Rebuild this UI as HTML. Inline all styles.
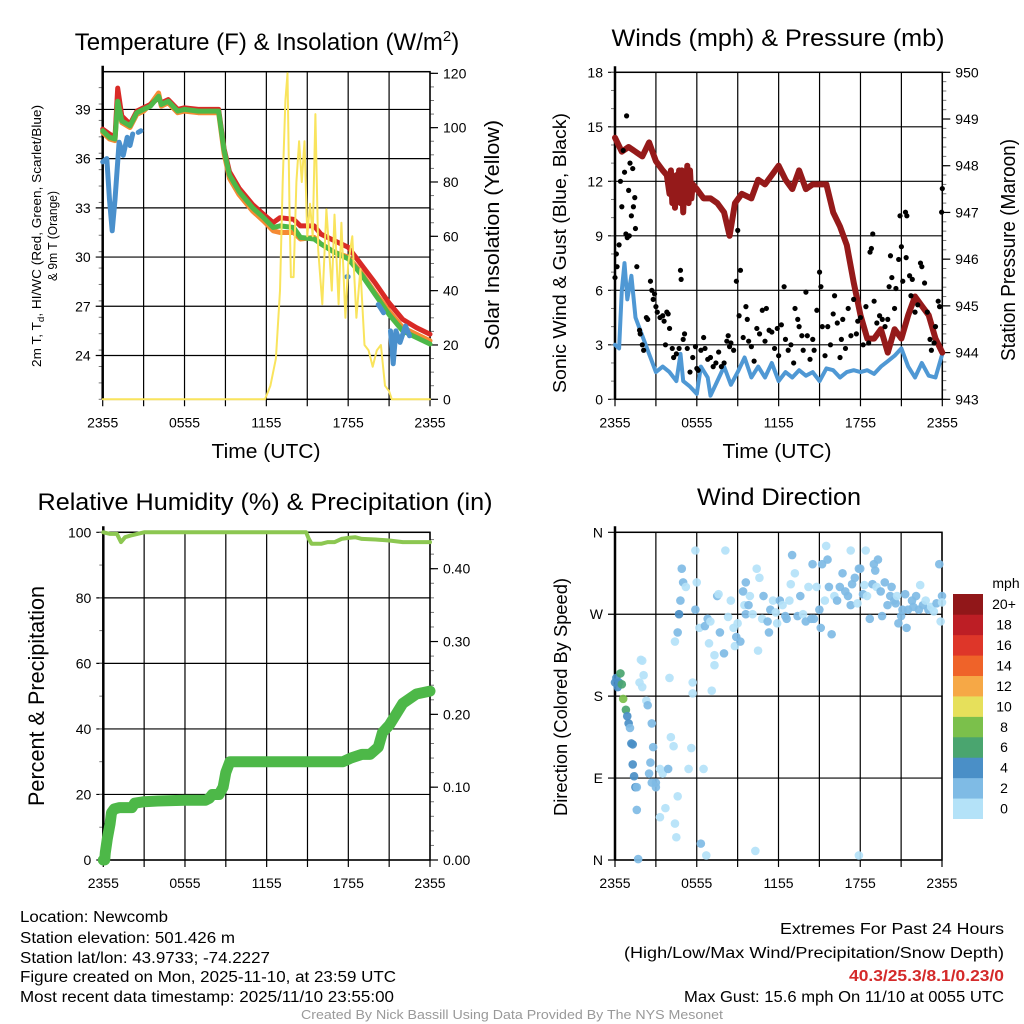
<!DOCTYPE html>
<html><head><meta charset="utf-8"><style>
html,body{margin:0;padding:0;background:#fff;}
svg{display:block;font-family:"Liberation Sans",Arial,sans-serif;}
</style></head><body>
<svg id="c" width="1024" height="1024" viewBox="0 0 1024 1024" xmlns="http://www.w3.org/2000/svg"></svg>
<script>
// ---- Panel 1 data ----
const tempT   = [0,0.5,0.9,1.1,1.4,2.0,2.5,3.0,3.5,4.1,4.3,4.8,5.5,6.0,7.0,8.0,8.5,8.9,9.3,10,11,11.8,12.5,13,14,14.5,15.5,16,17,18,19,20,21,22,23,24];
const tempGreen=[37.7,37.3,37.2,39.5,38.3,38.0,38.8,39.0,39.2,39.8,39.3,39.5,38.9,39.0,38.9,38.9,38.9,36.5,35.0,34.0,33.0,32.4,31.8,31.9,31.8,31.2,31.1,30.8,30.3,29.9,28.9,27.7,26.5,25.5,25.1,24.7];
const tempRed  =[37.8,37.5,37.3,40.3,38.6,38.1,38.9,39.1,39.3,39.7,39.4,39.6,39.0,39.1,39.0,39.0,39.0,36.6,35.2,34.2,33.2,32.6,32.1,32.4,32.3,31.9,31.9,31.4,31.0,30.6,29.5,28.4,27.2,26.2,25.7,25.3];
const tempOrange=[37.6,37.2,37.1,39.7,38.2,37.9,38.7,38.9,39.3,40.0,39.2,39.4,38.8,38.9,38.8,38.8,38.8,36.3,34.8,33.8,32.8,32.2,31.6,31.5,31.5,31.1,31.2,30.8,30.3,30.0,29.0,27.8,26.7,25.7,25.3,24.9];
const dewT = [0,0.3,0.5,0.7,0.9,1.2,1.5,1.8,2.0,2.2,2.3,2.6,2.8,2.9,17.9,18.0,18.1,20.2,20.3,20.6,20.8,21.1,21.3,21.5,21.8,22.2,22.5];
const dewV = [35.8,36.0,33.5,31.6,33.5,37.0,36.2,37.3,36.8,37.5,null,37.6,37.7,null,28.8,28.8,null,27.1,27.0,26.6,null,25.5,23.5,25.5,24.8,25.8,25.2];
const solT = [0,11.9,12.3,12.7,13.0,13.2,13.4,13.55,13.7,13.8,14.0,14.2,14.4,14.6,14.8,15.0,15.2,15.4,15.6,15.8,16.1,16.4,16.8,17.0,17.3,17.5,17.8,18.0,18.3,18.6,18.9,19.2,19.5,19.8,20.1,20.4,20.7,21.0,21.2,24];
const solV = [0,0,5,15,40,80,110,120,70,45,45,80,95,80,95,60,72,60,105,55,35,70,40,68,35,65,30,50,60,30,48,20,18,12,18,20,5,3,0,0];
const p1yTicks=[24,27,30,33,36,39];
const p1rTicks=[0,20,40,60,80,100,120];
const timeLabels=["2355","0555","1155","1755","2355"];
// ---- Panel 2 data ----
const presT=[0,0.5,1,1.5,2,2.5,3,3.5,3.8,4.0,4.1,4.2,4.3,4.4,4.5,4.6,4.7,4.8,4.9,5.0,5.1,5.2,5.3,5.4,5.5,5.6,5.7,6,6.5,7,7.5,8,8.4,8.8,9.3,10,10.5,11,11.5,12,12.5,13,13.5,14,14.5,15.5,16,16.5,17,17.5,18,18.5,19,19.5,20,20.5,21,21.5,22,22.5,23,23.5,24];
const presV=[948.6,948.3,948.4,948.3,948.2,948.5,948.1,947.9,947.8,947.4,947.9,947.2,947.7,947.1,947.8,947.3,947.9,947.2,947.9,947.0,947.8,947.4,948.0,947.2,947.9,947.3,947.6,947.5,947.3,947.3,947.2,947.0,946.5,947.2,947.4,947.3,947.7,947.6,947.8,948.0,947.7,947.5,947.9,947.5,947.6,947.6,947.0,946.7,946.3,945.5,944.8,944.3,944.3,944.5,944.0,944.5,944.3,944.8,945.2,945.0,944.8,944.3,944.0];
const windT=[0,0.3,0.5,0.7,0.9,1.2,1.5,2,2.5,3,3.5,4,4.5,4.8,5,5.5,6,6.3,6.8,7,7.5,8,8.5,9,9.5,10,10.5,11,11.5,12,12.5,13,13.5,14,14.5,15,15.5,16,16.5,17,17.5,18,18.5,19,19.5,20,20.5,21,21.5,22,22.5,23,23.5,24];
const windV=[3,2.8,6,7.5,5.5,6.8,4.5,3.5,2.5,1.5,1.8,1.5,1.0,2.5,1.0,0.7,0.3,1.8,1.2,0.2,1.0,1.8,0.8,1.5,2.3,1.2,1.8,1.2,2.0,1.0,1.5,1.2,1.6,1.3,1.5,1.0,1.7,1.6,1.2,1.5,1.6,1.5,1.6,1.4,1.8,2.1,2.4,2.8,1.8,1.2,2.0,1.3,1.2,2.5];
const gustT=[0,0.1,0.15,0.3,0.4,0.5,0.6,0.7,0.8,0.85,0.9,1.0,1.05,1.1,1.2,1.3,1.35,1.45,1.5,1.6,1.8,1.85,2.0,2.1,2.3,2.4,2.6,2.7,2.8,2.9,3.0,3.1,3.3,3.5,3.6,3.7,3.8,3.9,4.0,4.2,4.3,4.5,4.7,4.8,4.85,5.0,5.1,5.3,5.5,5.7,5.9,6.0,6.1,6.3,6.5,6.6,6.8,7.0,7.2,7.4,7.6,7.8,8.0,8.2,8.3,8.4,8.5,8.7,8.9,9.0,9.2,9.1,9.4,9.6,9.7,9.8,10.0,10.2,10.4,10.6,10.8,11.0,11.1,11.3,11.5,11.7,11.9,12.0,12.2,12.4,12.5,12.7,12.9,13.1,13.2,13.4,13.5,13.7,13.8,14.0,14.1,14.3,14.5,14.6,14.8,15.0,15.1,15.2,15.4,15.6,15.8,16.0,16.1,16.3,16.5,16.6,16.7,16.9,17.1,17.3,17.5,17.7,17.8,18.0,18.2,18.4,18.6,18.7,18.8,18.9,19.0,19.2,19.4,19.6,19.8,20.0,20.1,20.2,20.3,20.5,20.6,20.8,20.9,21.0,21.1,21.3,21.4,21.35,21.6,21.8,21.7,22.0,22.2,22.4,22.5,22.7,22.9,23.1,23.2,23.4,23.5,23.7,23.8,24.0,23.95];
const gustV=[6.7,8,7.3,8.5,12,10.6,13.7,12.5,9.1,15.6,8.9,11.5,9,13,10.1,12.7,10.6,11.1,9.4,7.3,3.8,3.6,3.0,2.7,4.5,4.4,6.5,6.0,5.5,5.8,5.1,4.8,4.5,4.6,4.3,3.0,4.8,4.7,3.9,2.8,2.3,2.5,2.8,7.1,6.6,3.3,3.6,2.8,1.5,2.3,2.9,1.7,1.6,2.7,3.4,2.8,2.2,2.3,1.8,2.0,2.6,1.8,2.0,3.2,3.5,2.9,3.1,2.7,6.5,9.3,7.1,4.6,3.4,5.1,4.4,3.2,2.9,2.1,3.9,3.6,4.9,3.2,5.0,3.8,3.7,2.8,3.9,2.4,4.1,6.2,3.3,2.7,3.0,2.0,5.0,4.4,4.0,3.5,2.7,5.9,3.5,2.2,3.3,2.7,4.9,7.0,6.2,4.0,2.4,4.0,3.0,4.7,5.7,4.2,2.3,3.3,4.4,2.8,5.0,3.5,5.5,3.6,4.3,4.5,3.0,5.1,3.1,8.1,8.3,9.1,5.4,4.2,4.6,4.4,4.0,4.4,6.2,7.9,6.7,5.0,6.1,7.7,10.1,8.4,6.5,10.3,10.1,7.8,6.8,6.6,5.7,4.8,5.2,7.5,7.3,6.4,4.8,3.3,2.7,3.1,4.0,5.4,5.1,11.6,10.3];
const p2yTicks=[0,3,6,9,12,15,18];
const p2rTicks=[943,944,945,946,947,948,949,950];
// ---- Panel 3 data ----
const rhT=[0,0.5,1.0,1.3,1.6,2,3,14.9,15.1,15.3,16,16.5,17,17.5,18,18.5,19,20,21,22,23,24];
const rhV=[100,99.5,99.5,97,98.5,99,100,100,98,96.5,96.5,97,97,98,98.3,98.5,98,97.8,97.5,97,97,97];
const prT=[0,0.1,0.15,0.3,0.5,0.6,0.8,1.2,2.1,2.3,3.0,4,6,7.5,7.8,8.0,8.5,8.8,9.0,9.3,11,17.6,18.2,19.0,19.6,20.2,20.5,21.0,21.5,22.0,23.0,24.0];
const prV=[0,0,0.01,0.03,0.05,0.065,0.07,0.072,0.072,0.078,0.08,0.081,0.082,0.082,0.085,0.09,0.09,0.10,0.12,0.135,0.135,0.135,0.14,0.145,0.145,0.155,0.175,0.185,0.2,0.215,0.228,0.232];
const p3yTicks=[0,20,40,60,80,100];
const p3rTicks=[0,0.1,0.2,0.3,0.4];
// ---- Panel 4 data ----
const dirT=[0,0.1,0.2,0.3,0.4,0.5,0.6,0.8,0.9,1.0,1.1,1.2,1.3,1.3,1.4,1.5,1.6,1.6,1.7,1.8,1.9,2.0,2.1,2.0,2.3,2.4,2.7,2.8,2.6,2.5,2.7,3.0,3.0,3.3,3.5,3.3,3.7,3.9,4.1,4.3,4.6,4.4,4.5,4.0,4.4,4.6,4.7,4.8,4.9,5.0,5.2,5.4,5.6,5.7,5.7,5.9,5.9,6.0,6.2,6.3,6.5,6.7,6.6,6.8,7.0,6.9,7.1,7.3,7.3,7.5,7.6,7.7,8.1,8.0,8.3,8.5,8.7,8.9,8.8,9.0,9.2,9.4,9.5,9.6,9.6,9.8,9.9,10.1,10.3,10.4,10.6,10.5,10.8,10.9,11.2,11.3,11.4,11.6,11.8,11.9,12.1,12.3,12.5,12.6,12.8,12.9,13.0,13.2,13.4,13.6,13.8,14.0,14.2,14.4,14.5,14.6,14.8,15.0,15.1,15.2,15.4,15.5,15.6,15.7,15.9,16.1,16.3,16.5,16.7,16.9,17.1,17.3,17.3,17.4,17.6,17.8,17.9,18.0,18.2,18.3,17.9,18.4,18.5,18.7,18.9,19.0,19.1,19.2,19.3,19.5,19.6,19.8,20.0,20.2,20.3,20.5,20.6,20.7,20.8,21.0,21.1,21.3,21.4,21.5,21.8,21.9,22.1,22.3,22.4,22.6,22.8,23.0,23.2,23.4,23.6,23.8,23.9,24.0,24.0];
const dirV=[195,200,190,195,205,193,177,165,158,150,145,128,127,105,92,80,80,55,1,195,220,219,203,190,175,170,150,124,107,95,85,85,80,100,95,47,57,100,135,125,70,40,25,200,240,250,270,285,320,305,300,100,123,195,183,275,340,305,255,18,100,5,257,265,262,238,186,214,225,290,292,250,340,227,267,285,255,245,235,260,240,295,280,270,305,280,290,270,10,320,310,230,265,290,262,250,275,285,272,260,285,280,268,265,285,303,335,315,268,290,270,262,300,265,325,265,300,275,255,325,285,345,330,300,248,290,285,300,315,295,290,280,340,303,310,282,320,320,292,302,5,340,290,265,303,325,318,300,330,295,268,305,280,290,300,285,282,290,260,268,275,292,255,275,285,278,290,275,302,280,285,275,278,273,282,325,262,290,283];
const dirS=[4,4,4,5,6,6,8,6,4,4,3,4,4,4,4,4,3,3,3,1,1,1,1,1,1,2,3,3,3,3,3,2,3,1,1,1,1,2,1,1,1,1,1,1,1,3,4,3,3,3,1,1,1,1,1,2,1,1,1,2,1,1,2,2,1,1,1,1,1,2,1,2,1,2,1,1,1,2,1,1,2,2,1,3,2,2,1,1,1,1,1,1,1,3,2,2,2,1,1,1,2,1,2,2,1,1,3,1,2,2,1,2,1,3,2,2,1,2,2,2,1,1,3,3,2,1,2,3,3,2,2,2,1,3,2,1,3,2,3,1,1,1,1,2,2,2,2,1,2,2,2,2,2,2,2,2,3,1,2,3,2,2,3,3,3,2,2,2,1,2,1,2,1,1,2,2,1,2,1,1,2];
const cbLabels=["0","2","4","6","8","10","12","14","16","18","20+"];
const cbColors=["#b4e2f8","#7fbbe5","#4a8fc7","#4aa56f","#7bc04b","#e6e05b","#f6a846","#ef6329","#de3629","#bd1e25","#911719"];
const dirLabels=["N","E","S","W","N"];
const dirTicks=[0,90,180,270,360];

const NS="http://www.w3.org/2000/svg";
const svg=document.getElementById('c');
function mk(tag,attrs,parent){const e=document.createElementNS(NS,tag);for(const k in attrs)e.setAttribute(k,attrs[k]);(parent||svg).appendChild(e);return e;}
function txt(s,x,y,size,anchor,extra,parent){const e=mk('text',Object.assign({x:x,y:y,'font-size':size,'text-anchor':anchor||'middle',fill:'#000'},extra||{}),parent);e.textContent=s;return e;}

function panel(P){
  const g=mk('g',{});
  
  
  const xs=t=>P.x0+t/24*(P.x1-P.x0);
  const ys=v=>P.y1-(v-P.ymin)/(P.ymax-P.ymin)*(P.y1-P.y0);
  for(let i=0;i<=8;i++){const x=xs(i*3);
    const l=mk('line',{x1:x,x2:x,y1:P.y0,y2:P.y1+7,stroke:'#000','stroke-width':1.2},g);
    
    }
  timeLabels.forEach((s,i)=>{const t=txt(s,xs(i*6),P.y1+28,14,'middle',{},g);
    
    });
  P.yTicks.forEach((v,i)=>{const y=ys(v);
    const l=mk('line',{x1:P.x0-7,x2:P.x1,y1:y,y2:y,stroke:'#000','stroke-width':1.2},g);
    
    
    const t=txt(P.yLabels?P.yLabels[i]:String(v),P.x0-12,y+5,14,'end',{},g);
    
    });
  if(P.yMinor){for(let v=P.ymin;v<=P.ymax+1e-9;v+=P.yMinor){const y=ys(v);
    const l=mk('line',{x1:P.x0-4,x2:P.x0,y1:y,y2:y,stroke:'#777','stroke-width':1},g);
    
    }}
  if(P.rTicks){const rs=v=>P.y1-(v-P.rmin)/(P.rmax-P.rmin)*(P.y1-P.y0);
    for(let v=P.rmin;v<=P.rmax+1e-9;v+=P.rMinor){const y=rs(v);if(y<P.y0-1)continue;
      const l=mk('line',{x1:P.x1,x2:P.x1+4,y1:y,y2:y,stroke:'#777','stroke-width':1},g);
      
      }
    P.rTicks.forEach(v=>{const y=rs(v);
      const l=mk('line',{x1:P.x1,x2:P.x1+8,y1:y,y2:y,stroke:'#000','stroke-width':1.2},g);
      
      
      const t=txt(P.rFmt?P.rFmt(v):String(v),P.x1+13,y+5,14,'start',{},g);
      
      });
    P.rs=rs;}
  const f=mk('rect',{x:P.x0,y:P.y0,width:P.x1-P.x0,height:P.y1-P.y0,fill:'none',stroke:'#000','stroke-width':1.5},g);
  
  
  mk('line',{x1:P.x0,x2:P.x0,y1:P.y0-6,y2:P.y1,stroke:'#000','stroke-width':2.5},g);
  P.xs=xs;P.ys=ys;P.g=g;return P;
}
function path(P,T,V,sc,attrs,name){let d='',pen=false;
  T.forEach((t,i)=>{const v=V[i];if(v===null||v===undefined){pen=false;return;}
    d+=(pen?'L':'M')+P.xs(t).toFixed(1)+','+sc(v).toFixed(1);pen=true;});
  const p=mk('path',Object.assign({d:d,fill:'none','stroke-linejoin':'round','stroke-linecap':'round'},attrs),P.g);
  
  return p;}

const P1=panel({name:'temperature-panel',x0:102.7,x1:430,y0:71.7,y1:399.3,ymin:21.33,ymax:41.3,yTicks:p1yTicks,yMinor:1,rTicks:p1rTicks,rmin:0,rmax:120.6,rMinor:5});
path(P1,tempT,tempOrange,P1.ys,{stroke:'#f58a33','stroke-width':5},'temp-9m-line');
path(P1,tempT,tempRed,P1.ys,{stroke:'#d92a26','stroke-width':5},'heat-index-line');
path(P1,tempT,tempGreen,P1.ys,{stroke:'#4db848','stroke-width':5},'temp-2m-line');
path(P1,dewT,dewV,P1.ys,{stroke:'#4a90cc','stroke-width':5},'dewpoint-line');
path(P1,solT,solV,P1.rs,{stroke:'#f9e45d','stroke-width':2},'insolation-line');
const P2=panel({name:'winds-panel',x0:615,x1:942.3,y0:72.3,y1:399.3,ymin:0,ymax:18,yTicks:p2yTicks,yMinor:1,rTicks:p2rTicks,rmin:943,rmax:950,rMinor:0.2});
path(P2,windT,windV,P2.ys,{stroke:'#4f98d4','stroke-width':4},'sonic-wind-line');
path(P2,presT,presV,P2.rs,{stroke:'#951a1a','stroke-width':6},'pressure-line');
gustT.forEach((t,i)=>{const c=mk('circle',{cx:P2.xs(t),cy:P2.ys(gustV[i]),r:2.6,fill:'#000'},P2.g);
  
  });
const P3=panel({name:'humidity-panel',x0:103.3,x1:430,y0:532.3,y1:860,ymin:0,ymax:100,yTicks:p3yTicks,yMinor:10,rTicks:p3rTicks,rmin:0,rmax:0.45,rMinor:0.02,rFmt:v=>v.toFixed(2)});
path(P3,rhT,rhV,P3.ys,{stroke:'#8cc751','stroke-width':4},'humidity-line');
path(P3,prT,prV,P3.rs,{stroke:'#4db848','stroke-width':11},'precip-line');
const P4=panel({name:'wind-direction-panel',x0:615,x1:942,y0:532.3,y1:860,ymin:0,ymax:360,yTicks:dirTicks,yLabels:dirLabels});
dirT.forEach((t,i)=>{const b=Math.min(10,Math.floor(dirS[i]/2));
  const c=mk('circle',{cx:P4.xs(t),cy:P4.ys(dirV[i]),r:4.3,fill:cbColors[b],'fill-opacity':0.92},P4.g);
  
  });
const cb=mk('g',{});


const cbh=(818.7-594)/11;
cbColors.forEach((col,i)=>{const y=818.7-(i+1)*cbh;
  const r=mk('rect',{x:953,y:y,width:30,height:cbh+0.3,fill:col},cb);
  
  
  const t=txt(cbLabels[i],1004,y+cbh/2+5,14,'middle',{},cb);
  
  });
txt('mph',1006,588,14,'middle',{},cb);

function T(s,x,y,size,len,name,extra){const t=txt(s,x,y,size,'middle',Object.assign({textLength:len,lengthAdjust:'spacingAndGlyphs'},extra||{}));
  
  return t;}
const t1=txt('',267,50,24,'middle');


t1.innerHTML='Temperature (F) &amp; Insolation (W/m<tspan dy="-9" font-size="15">2</tspan><tspan dy="9">)</tspan>';
T('Winds (mph) & Pressure (mb)',778,46,24,333,'winds-title');
T('Relative Humidity (%) & Precipitation (in)',265,510,24,455,'humidity-title');
T('Wind Direction',779,505,24,164,'direction-title');
T('Time (UTC)',266,458,20,109,'p1-x-axis-title');
T('Time (UTC)',777,458,20,109,'p2-x-axis-title');
T('Solar Insolation (Yellow)',0,0,20,230,'insolation-axis-title',{transform:'translate(499,235) rotate(-90)'});
T('Sonic Wind & Gust (Blue, Black)',0,0,18,280,'wind-axis-title',{transform:'translate(566,253) rotate(-90)'});
T('Station Pressure (Maroon)',0,0,20,222,'pressure-axis-title',{transform:'translate(1015,250) rotate(-90)'});
T('Percent & Precipitation',0,0,22,220,'percent-axis-title',{transform:'translate(44,696) rotate(-90)'});
T('Direction (Colored By Speed)',0,0,18,238,'direction-axis-title',{transform:'translate(567,697) rotate(-90)'});
const lt=txt('',0,0,12.5,'middle',{transform:'translate(41,236) rotate(-90)',textLength:262,lengthAdjust:'spacingAndGlyphs'});


lt.innerHTML='2m T, T<tspan dy="3" font-size="9">d</tspan><tspan dy="-3">, HI/WC (Red, Green, Scarlet/Blue)</tspan>';
T('& 9m T (Orange)',0,0,12.5,90,'temperature-axis-title-2',{transform:'translate(57,236) rotate(-90)'});

function L(s,x,y,len,name,anchor,extra){const t=txt(s,x,y,15.5,anchor,Object.assign({textLength:len,lengthAdjust:'spacingAndGlyphs'},extra||{}));
  
  return t;}
L('Location: Newcomb',20,922,148,'location-text','start');
L('Station elevation: 501.426 m',20,943,215,'elevation-text','start');
L('Station lat/lon: 43.9733; -74.2227',20,963,250,'latlon-text','start');
L('Figure created on Mon, 2025-11-10, at 23:59 UTC',20,982,376,'created-text','start');
L('Most recent data timestamp: 2025/11/10 23:55:00',20,1002,374,'timestamp-text','start');
L('Extremes For Past 24 Hours',1004,934,224,'extremes-title','end');
L('(High/Low/Max Wind/Precipitation/Snow Depth)',1004,958,380,'extremes-subtitle','end');
L('40.3/25.3/8.1/0.23/0',1004,981,155,'extremes-values','end',{fill:'#d42a2a','font-weight':'bold'});
L('Max Gust: 15.6 mph On 11/10 at 0055 UTC',1004,1002,320,'max-gust-text','end');
const cr=txt('Created By Nick Bassill Using Data Provided By The NYS Mesonet',512,1019,12.5,'middle',{fill:'#999',textLength:422,lengthAdjust:'spacingAndGlyphs'});


</script>
</body></html>
